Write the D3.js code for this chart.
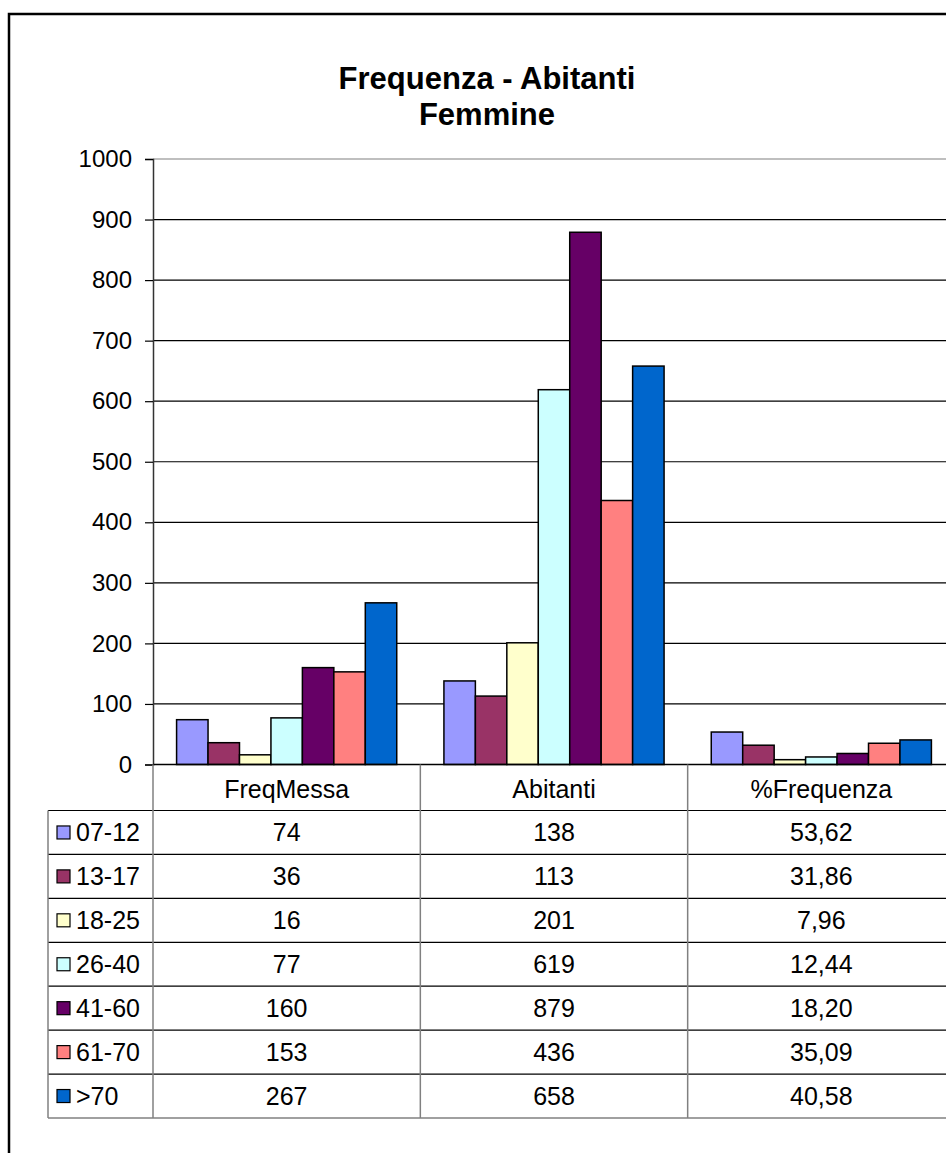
<!DOCTYPE html>
<html>
<head>
<meta charset="utf-8">
<script src="https://cdn.jsdelivr.net/npm/d3@7"></script>
<style>
  body { margin: 0; background: #fff; }
  svg { display: block; }
</style>
</head>
<body>
<svg id="chart" width="946" height="1153"></svg>
<script>
// data
const categories = ["FreqMessa", "Abitanti", "%Frequenza"];
const ageGroups = ["07-12", "13-17", "18-25", "26-40", "41-60", "61-70", ">70"];
const freqMessa = [74, 36, 16, 77, 160, 153, 267];
const abitanti = [138, 113, 201, 619, 879, 436, 658];
const percFrequenza = [53.62, 31.86, 7.96, 12.44, 18.20, 35.09, 40.58];
const colors = ["#9999FF", "#993366", "#FFFFCC", "#CCFFFF", "#660066", "#FF8080", "#0066CC"];

const seriesByCat = [freqMessa, abitanti, percFrequenza];
const itFmt = d3.formatLocale({ decimal: ",", thousands: ".", grouping: [3], currency: ["", "€"] });
const fmts = [d3.format("d"), d3.format("d"), itFmt.format(".2f")];

const svg = d3.select("#chart");
const font = "'Liberation Sans', Arial, sans-serif";

const plotL = 153, plotR = 955, plotT = 159, plotB = 764.5;
const headerH = 46, tableBottom = 1118, legendLeft = 48;

const x = d3.scaleBand().domain(categories).range([plotL, plotR]);
const xs = d3.scaleBand().domain(ageGroups).range([0, x.bandwidth()]).paddingOuter(0.75);
const y = d3.scaleLinear().domain([0, 1000]).range([plotB, plotT]);

// outer chart border
svg.append("rect")
  .attr("x", 9).attr("y", 14)
  .attr("width", 1000).attr("height", 1200)
  .attr("fill", "none").attr("stroke", "#000").attr("stroke-width", 2.5);

// title
svg.append("text")
  .attr("x", 487).attr("y", 89)
  .attr("text-anchor", "middle")
  .style("font", `bold 31px ${font}`)
  .text("Frequenza - Abitanti");
svg.append("text")
  .attr("x", 487).attr("y", 125)
  .attr("text-anchor", "middle")
  .style("font", `bold 31px ${font}`)
  .text("Femmine");

// gridlines
const ticks = y.ticks(10);
svg.append("g").selectAll("line")
  .data(ticks.filter(t => t > 0))
  .join("line")
  .attr("x1", plotL).attr("x2", plotR)
  .attr("y1", d => y(d)).attr("y2", d => y(d))
  .attr("stroke", d => d === 1000 ? "#808080" : "#000")
  .attr("stroke-width", 1.2);

// y axis
const yAxis = svg.append("g")
  .attr("transform", `translate(${plotL},0)`)
  .call(d3.axisLeft(y).tickValues(ticks).tickFormat(d3.format("d")).tickSize(8).tickPadding(13));
yAxis.select(".domain").attr("stroke", "#333").attr("stroke-width", 1.5);
yAxis.selectAll(".tick line").attr("stroke", "#000").attr("stroke-width", 1.2);
yAxis.selectAll(".tick text")
  .style("font", `24px ${font}`)
  .attr("fill", "#000");

// bars
categories.forEach((cat, ci) => {
  svg.append("g")
    .attr("transform", `translate(${x(cat)},0)`)
    .selectAll("rect")
    .data(seriesByCat[ci].map((v, i) => ({ v, g: ageGroups[i], c: colors[i] })))
    .join("rect")
    .attr("x", d => xs(d.g))
    .attr("width", xs.bandwidth())
    .attr("y", d => y(d.v))
    .attr("height", d => plotB - y(d.v))
    .attr("fill", d => d.c)
    .attr("stroke", "#000")
    .attr("stroke-width", 1.5);
});

// data table
const rowY = d3.scaleBand().domain(ageGroups).range([plotB + headerH, tableBottom]);
const tbl = svg.append("g");

// horizontal lines
tbl.append("line")
  .attr("x1", plotL).attr("x2", plotR)
  .attr("y1", plotB).attr("y2", plotB)
  .attr("stroke", "#000").attr("stroke-width", 1.5);
tbl.selectAll("line.row")
  .data(ageGroups)
  .join("line")
  .attr("class", "row")
  .attr("x1", legendLeft).attr("x2", plotR)
  .attr("y1", d => rowY(d)).attr("y2", d => rowY(d))
  .attr("stroke", "#000").attr("stroke-width", 1.2);
tbl.append("line")
  .attr("x1", legendLeft).attr("x2", plotR)
  .attr("y1", tableBottom).attr("y2", tableBottom)
  .attr("stroke", "#808080").attr("stroke-width", 1.5);

// vertical lines
tbl.selectAll("line.col")
  .data(categories.slice(1))
  .join("line")
  .attr("class", "col")
  .attr("x1", d => x(d)).attr("x2", d => x(d))
  .attr("y1", plotB).attr("y2", tableBottom)
  .attr("stroke", "#808080").attr("stroke-width", 1.5);
tbl.append("line")
  .attr("x1", plotL).attr("x2", plotL)
  .attr("y1", plotB).attr("y2", tableBottom)
  .attr("stroke", "#808080").attr("stroke-width", 1.5);
tbl.append("line")
  .attr("x1", legendLeft).attr("x2", legendLeft)
  .attr("y1", plotB + headerH).attr("y2", tableBottom)
  .attr("stroke", "#808080").attr("stroke-width", 1.5);

// header text
tbl.selectAll("text.head")
  .data(categories)
  .join("text")
  .attr("class", "head")
  .attr("x", d => x(d) + x.bandwidth() / 2)
  .attr("y", plotB + 33)
  .attr("text-anchor", "middle")
  .style("font", `25px ${font}`)
  .text(d => d);

// legend keys + labels
const rows = tbl.selectAll("g.r")
  .data(ageGroups.map((g, i) => ({ g, i })))
  .join("g")
  .attr("class", "r")
  .attr("transform", d => `translate(0,${rowY(d.g) + rowY.bandwidth() / 2})`);
rows.append("rect")
  .attr("x", 57).attr("y", -6.5)
  .attr("width", 13).attr("height", 13)
  .attr("fill", d => colors[d.i])
  .attr("stroke", "#000").attr("stroke-width", 1.2);
rows.append("text")
  .attr("x", 76).attr("y", 9)
  .style("font", `25px ${font}`)
  .text(d => d.g);
categories.forEach((cat, ci) => {
  rows.append("text")
    .attr("x", x(cat) + x.bandwidth() / 2)
    .attr("y", 9)
    .attr("text-anchor", "middle")
    .style("font", `25px ${font}`)
    .text(d => fmts[ci](seriesByCat[ci][d.i]));
});
</script>
</body>
</html>
